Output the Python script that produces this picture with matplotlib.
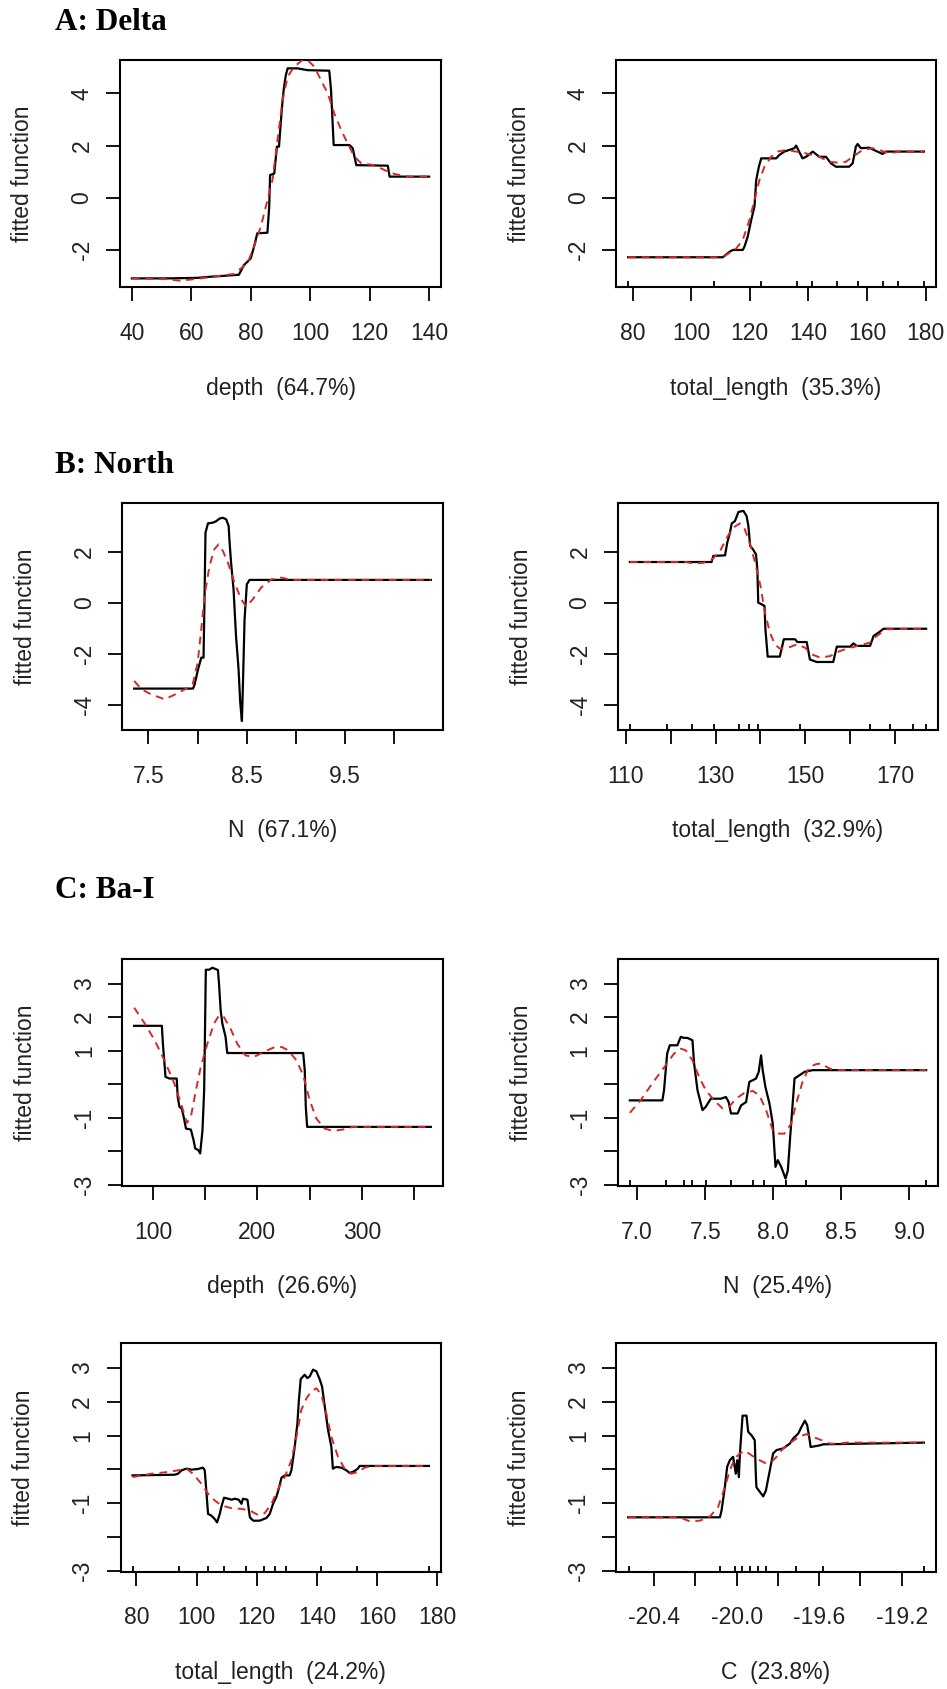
import matplotlib.pyplot as plt

W, H = 947, 1689

# ---------- A: Delta ----------
delta_depth_x = [40, 52, 62, 66, 70, 76, 77.7, 80, 81.1, 82.2, 85.6, 86.2, 86.5, 87.9, 88.8, 89.5, 89.9, 90.7,
                 91.2, 91.8, 92.4, 95.7, 99.1, 106.4, 107.0, 107.6, 107.9, 113.2, 114.3, 114.9, 115.5, 126.1,
                 126.7, 140]
delta_depth_y = [-3.09, -3.09, -3.07, -3.03, -3.0, -2.95, -2.58, -2.32, -1.87, -1.36, -1.34, -0.34, 0.87, 0.93,
                 1.96, 1.96, 2.6, 3.74, 4.26, 4.70, 4.96, 4.96, 4.89, 4.87, 4.13, 2.72, 2.02, 2.02, 1.9, 1.57,
                 1.25, 1.23, 0.81, 0.81]
delta_depth_sx = [40, 51.8, 56.3, 63.1, 68.7, 74.3, 78.9, 81.1, 83.4, 85.6, 87.3, 89.0, 90.7, 92.4, 94.6, 97.4,
                  99.1, 101.4, 103.6, 105.9, 108.1, 110.4, 112.6, 114.9, 117.2, 121.6, 125.0, 128.4, 132.9, 140]
delta_depth_sy = [-3.09, -3.12, -3.18, -3.09, -3.0, -2.92, -2.51, -1.87, -1.1, -0.09, 0.68, 2.21, 3.74, 4.64,
                  5.02, 5.28, 5.28, 5.02, 4.51, 4.0, 3.23, 2.6, 2.08, 1.57, 1.32, 1.25, 1.06, 0.91, 0.81, 0.81]

delta_len_x = [78.5, 110.8, 113.1, 114.2, 117.6, 118.2, 119.3, 120.5, 121.6, 122.2, 123.1, 123.9, 129.0, 130.1,
               131.8, 135.2, 135.8, 138.0, 139.2, 141.5, 143.7, 146.0, 147.7, 149.4, 153.9, 155.1, 156.2, 156.8,
               157.9, 160.7, 162.4, 165.3, 166.4, 168.1, 179.4]
delta_len_y = [-2.28, -2.28, -2.07, -2.0, -2.0, -1.87, -1.49, -0.85, -0.34, 0.68, 1.19, 1.51, 1.51, 1.64, 1.77,
               1.9, 2.0, 1.51, 1.57, 1.77, 1.57, 1.57, 1.32, 1.19, 1.19, 1.32, 1.96, 2.06, 1.9, 1.92, 1.83, 1.68,
               1.77, 1.77, 1.77]
delta_len_sx = [78.5, 109.7, 112.0, 115.4, 117.6, 119.9, 121.6, 123.3, 125.0, 127.3, 129.5, 132.4, 135.8, 139.2,
                143.7, 147.1, 150.5, 152.8, 155.1, 158.5, 161.9, 164.2, 167.6, 171.0, 179.4]
delta_len_sy = [-2.28, -2.28, -2.19, -1.94, -1.62, -0.85, -0.09, 0.68, 1.19, 1.57, 1.77, 1.83, 1.77, 1.70, 1.57,
                1.38, 1.34, 1.38, 1.57, 1.83, 1.90, 1.83, 1.70, 1.77, 1.77]
delta_len_rug = [78.5, 107.7, 120.0, 123.9, 136.0, 141.1, 149.6, 157.0, 165.5, 170.6, 179.5]

# ---------- B: North ----------
north_n_x = [7.355, 7.953, 7.97, 8.004, 8.037, 8.06, 8.07, 8.08, 8.105, 8.156, 8.19, 8.223, 8.257, 8.29, 8.315,
             8.325, 8.34, 8.365, 8.39, 8.416, 8.433, 8.45, 8.46, 8.477, 8.50, 8.528, 10.37]
north_n_y = [-3.36, -3.36, -3.19, -2.61, -2.15, -2.15, 0.2, 2.74, 3.10, 3.13, 3.19, 3.29, 3.32, 3.26, 3.0, 2.35,
             1.56, 0.52, -1.3, -2.61, -3.91, -4.63, -3.26, -0.65, 0.72, 0.89, 0.89]
north_n_sx = [7.355, 7.43, 7.53, 7.666, 7.77, 7.87, 7.95, 8.0, 8.037, 8.07, 8.12, 8.17, 8.213, 8.257, 8.308,
              8.375, 8.443, 8.494, 8.56, 8.646, 8.75, 8.85, 8.95, 10.37]
north_n_sy = [-3.06, -3.39, -3.59, -3.78, -3.59, -3.39, -3.19, -2.35, -1.04, 0.26, 1.43, 2.09, 2.28, 2.02, 1.56,
              0.78, 0.13, -0.16, 0.13, 0.59, 0.91, 0.98, 0.89, 0.89]

north_len_x = [110.9, 129.1, 129.5, 132.1, 132.6, 133.2, 133.6, 134.3, 135.1, 136.2, 136.9, 137.3, 137.7, 138.3,
               139.0, 139.3, 139.5, 140.3, 140.9, 141.1, 141.6, 144.3, 145.2, 147.7, 148.2, 150.3, 151.0, 152.5,
               156.2, 157.0, 160.0, 160.7, 161.4, 164.4, 165.2, 166.3, 167.4, 176.9]
north_len_y = [1.59, 1.59, 1.83, 1.85, 2.35, 2.74, 3.10, 3.19, 3.55, 3.59, 3.39, 3.0, 2.22, 2.09, 1.89, 1.30, 0.0,
               -0.07, -0.13, -1.04, -2.11, -2.11, -1.43, -1.43, -1.54, -1.54, -2.22, -2.32, -2.32, -1.72, -1.72,
               -1.59, -1.69, -1.69, -1.30, -1.17, -1.02, -1.02]
north_len_sx = [110.9, 123.5, 125.0, 127.2, 129.1, 131.0, 132.5, 133.9, 135.4, 136.5, 137.7, 138.8, 140.0, 141.0,
                142.1, 143.2, 144.3, 146.2, 148.1, 149.9, 151.4, 153.3, 155.5, 157.7, 160.0, 162.2, 164.4, 165.9,
                168.1, 176.9]
north_len_sy = [1.59, 1.59, 1.53, 1.56, 1.67, 2.02, 2.54, 2.93, 3.10, 2.87, 2.28, 1.56, 0.65, -0.39, -1.17, -1.63,
                -1.80, -1.76, -1.63, -1.76, -2.02, -2.15, -2.09, -1.89, -1.76, -1.67, -1.56, -1.30, -1.04, -1.02]
north_len_rug = [111.0, 119.2, 124.8, 129.6, 135.2, 137.5, 139.5, 148.8, 164.5, 168.9, 174.0, 176.9]

# ---------- C: Ba-I ----------
bai_depth_x = [82, 108.5, 109.5, 111.0, 112.0, 115.8, 122.7, 123.7, 125.3, 127.5, 129.4, 131.6, 136.3, 138.9,
               140.4, 143.3, 145.2, 147.4, 149.0, 149.6, 150.6, 153.7, 156.9, 160.0, 162.2, 163.2, 164.8, 166.4,
               169.5, 171.1, 243.8, 245.3, 246.3, 247.6, 366]
bai_depth_y = [1.74, 1.74, 1.21, 0.62, 0.22, 0.17, 0.17, -0.38, -0.67, -0.72, -0.97, -1.32, -1.35, -1.67, -1.91,
               -1.96, -2.06, -1.37, -0.18, 1.11, 3.41, 3.41, 3.47, 3.43, 3.40, 3.0, 2.2, 1.81, 1.41, 0.93, 0.93,
               0.42, -0.67, -1.27, -1.27]
bai_depth_sx = [82, 92.1, 101.6, 111.0, 120.5, 126.9, 132.5, 136.3, 141.1, 145.8, 152.1, 158.5, 163.2, 167.9,
                174.2, 180.6, 188.5, 196.4, 205.8, 215.3, 223.2, 229.5, 237.4, 243.8, 250.1, 256.4, 264.3, 272.2,
                281.7, 291.2, 366]
bai_depth_sy = [2.28, 1.81, 1.31, 0.71, 0.02, -0.58, -1.15, -0.97, -0.18, 0.52, 1.21, 1.81, 2.05, 2.0, 1.66, 1.21,
                0.86, 0.81, 0.96, 1.09, 1.11, 1.01, 0.71, 0.27, -0.48, -1.02, -1.32, -1.39, -1.35, -1.27, -1.27]

bai_n_x = [6.946, 7.185, 7.197, 7.22, 7.239, 7.295, 7.32, 7.344, 7.369, 7.406, 7.418, 7.443, 7.48, 7.504, 7.541,
           7.615, 7.652, 7.672, 7.689, 7.738, 7.763, 7.80, 7.824, 7.873, 7.893, 7.91, 7.922, 7.942, 7.972, 7.996,
           8.016, 8.033, 8.058, 8.09, 8.107, 8.124, 8.144, 8.156, 8.193, 8.23, 8.29, 9.123]
bai_n_y = [-0.48, -0.48, -0.18, 0.91, 1.16, 1.16, 1.41, 1.38, 1.38, 1.31, 0.62, -0.18, -0.77, -0.67, -0.43, -0.43,
           -0.38, -0.53, -0.87, -0.87, -0.63, -0.53, 0.07, 0.17, 0.37, 0.86, 0.42, -0.08, -0.58, -1.17, -2.46,
           -2.26, -2.46, -2.81, -2.56, -1.57, -0.48, 0.17, 0.27, 0.37, 0.42, 0.42]
bai_n_sx = [6.946, 7.025, 7.11, 7.21, 7.27, 7.32, 7.357, 7.406, 7.455, 7.504, 7.566, 7.627, 7.676, 7.726, 7.787,
            7.849, 7.898, 7.947, 7.996, 8.033, 8.082, 8.132, 8.168, 8.218, 8.267, 8.316, 8.353, 8.39, 8.44, 9.123]
bai_n_sy = [-0.85, -0.48, 0.02, 0.57, 0.91, 1.06, 1.01, 0.71, 0.22, -0.18, -0.48, -0.72, -0.67, -0.43, -0.26,
            -0.20, -0.33, -0.77, -1.37, -1.47, -1.47, -1.17, -0.58, 0.12, 0.52, 0.60, 0.62, 0.52, 0.42, 0.42]
bai_n_rug = [6.946, 7.214, 7.345, 7.406, 7.504, 7.689, 7.849, 7.928, 8.0, 8.095, 8.243, 9.12]

bai_len_x = [78.7, 92.7, 93.8, 95.0, 96.6, 98.3, 100.5, 102.1, 102.7, 103.3, 103.8, 104.9, 106.0, 106.8, 107.7,
             108.2, 109.1, 110.5, 111.6, 112.7, 114.0, 114.9, 115.4, 116.9, 117.7, 118.8, 121.0, 123.2, 124.3,
             125.4, 126.5, 127.3, 128.2, 129.3, 130.9, 131.5, 132.6, 133.5, 134.0, 134.6, 135.9, 136.8, 137.6,
             138.7, 139.8, 140.9, 141.7, 142.6, 143.7, 144.8, 145.3, 146.4, 148.1, 149.8, 150.9, 152.5, 153.6,
             154.2, 177.2]
bai_len_y = [-0.18, -0.16, -0.13, -0.03, 0.02, -0.01, 0.01, 0.05, -0.03, -0.72, -1.32, -1.37, -1.47, -1.57, -1.32,
             -1.12, -0.84, -0.87, -0.9, -0.87, -0.9, -1.02, -0.87, -0.9, -1.42, -1.52, -1.52, -1.44, -1.32, -1.02,
             -0.82, -0.58, -0.25, -0.18, -0.18, -0.03, 0.66, 1.36, 2.05, 2.67, 2.80, 2.70, 2.75, 2.95, 2.90, 2.67,
             2.45, 1.86, 1.16, 0.66, 0.02, 0.07, 0.05, -0.03, -0.11, -0.05, 0.02, 0.10, 0.10]
bai_len_sx = [78.7, 85.0, 90.5, 93.8, 96.6, 98.8, 101.6, 103.8, 106.0, 108.2, 111.6, 114.9, 117.7, 120.4, 122.6,
              124.9, 127.1, 129.3, 131.5, 133.2, 134.8, 136.5, 138.1, 139.8, 141.5, 143.1, 144.8, 147.0, 149.2,
              151.4, 153.6, 155.9, 158.1, 177.2]
bai_len_sy = [-0.23, -0.13, -0.08, -0.03, 0.02, -0.13, -0.43, -0.72, -0.92, -1.07, -1.15, -1.17, -1.22, -1.35,
              -1.30, -1.02, -0.58, -0.23, 0.27, 0.96, 1.76, 2.10, 2.30, 2.40, 2.20, 1.66, 0.96, 0.37, 0.02, -0.13,
              -0.08, 0.05, 0.10, 0.10]
bai_len_rug = [78.7, 94.2, 103.8, 109.0, 116.3, 122.3, 125.9, 129.8, 141.5, 153.3, 177.2]

bai_c_x = [-20.526, -20.081, -20.073, -20.057, -20.046, -20.033, -20.017, -20.004, -19.997, -19.989, -19.984,
           -19.976, -19.971, -19.952, -19.944, -19.928, -19.912, -19.907, -19.904, -19.887, -19.871, -19.858,
           -19.839, -19.823, -19.806, -19.774, -19.742, -19.726, -19.701, -19.685, -19.669, -19.658, -19.648,
           -19.641, -19.596, -19.58, -19.092]
bai_c_y = [-1.42, -1.42, -1.22, -0.53, 0.07, 0.27, 0.37, -0.13, 0.27, -0.23, 0.47, 1.16, 1.59, 1.59, 1.11, 1.01,
           0.86, -0.13, -0.53, -0.67, -0.80, -0.63, -0.03, 0.47, 0.57, 0.62, 0.76, 0.91, 1.06, 1.26, 1.44, 1.31,
           0.96, 0.66, 0.71, 0.74, 0.79]
bai_c_sx = [-20.526, -20.275, -20.227, -20.178, -20.13, -20.09, -20.057, -20.033, -20.009, -19.984, -19.96,
            -19.936, -19.904, -19.863, -19.831, -19.806, -19.774, -19.734, -19.693, -19.661, -19.629, -19.588,
            -19.548, -19.507, -19.467, -19.092]
bai_c_sy = [-1.42, -1.42, -1.54, -1.52, -1.40, -1.12, -0.53, -0.03, 0.32, 0.47, 0.55, 0.45, 0.32, 0.19, 0.22,
            0.37, 0.62, 0.81, 0.98, 1.04, 0.96, 0.86, 0.76, 0.76, 0.79, 0.79]
bai_c_rug = [-20.524, -20.079, -20.010, -19.974, -19.933, -19.896, -19.857, -19.713, -19.583, -19.09]

# axis labels and ticks
a_yticks = [-2, 0, 2, 4]
b_yticks = [-4, -2, 0, 2]
c_yticks = [-3, -2, -1, 0, 1, 2, 3]
c_ylabels = ['-3', '', '-1', '', '1', '2', '3']

plt.rcParams['font.family'] = ['Liberation Sans', 'DejaVu Sans']
plt.rcParams['axes.unicode_minus'] = False

fig = plt.figure(figsize=(W / 100, H / 100), dpi=100)

TXT = '#222222'
FS = 16.5


def panel(box, xs, ys, sxs, sys_, xlabel, ylim, xticks, xticklabels, yticks, yticklabels, rug=None):
    left, right, top, bottom = box
    ax = fig.add_axes([left / W, 1 - bottom / H, (right - left) / W, (bottom - top) / H])
    ax.plot(xs, ys, color='black', lw=1.6, zorder=3)
    ax.plot(sxs, sys_, color='#d22a2a', lw=1.4, dashes=(4, 3), zorder=4)
    ax.margins(x=0.04)
    ax.set_ylim(*ylim)
    ax.set_xticks(xticks, xticklabels)
    ax.set_yticks(yticks, yticklabels)
    if rug is not None:
        ax.set_xticks(rug, minor=True)
        ax.tick_params(axis='x', which='minor', direction='in', length=4.5, width=1.3)
    ax.tick_params(axis='both', which='major', direction='out', length=10, width=1.3,
                   labelsize=FS, labelcolor=TXT)
    ax.tick_params(axis='x', which='major', pad=15)
    ax.tick_params(axis='y', which='major', pad=9)
    for lab in ax.get_yticklabels():
        lab.set_rotation(90)
        lab.set_va('center')
    for sp in ax.spines.values():
        sp.set_linewidth(1.5)
    ax.annotate(xlabel, xy=(0.5, 0), xycoords='axes fraction', xytext=(0, -101 * 0.72),
                textcoords='offset points', ha='center', va='center', fontsize=FS, color=TXT)
    ax.annotate('fitted function', xy=(0, 0.5), xycoords='axes fraction', xytext=(-97 * 0.72, 0),
                textcoords='offset points', ha='center', va='center', rotation=90, fontsize=FS, color=TXT)
    return ax


# row A
panel((120, 441, 60, 287), delta_depth_x, delta_depth_y, delta_depth_sx, delta_depth_sy,
      'depth  (64.7%)', (-3.42, 5.28), [40, 60, 80, 100, 120, 140], None, a_yticks, None)
panel((616.3, 935.7, 60, 287), delta_len_x, delta_len_y, delta_len_sx, delta_len_sy,
      'total_length  (35.3%)', (-3.42, 5.28), [80, 100, 120, 140, 160, 180], None, a_yticks, None,
      rug=delta_len_rug)

# row B
panel((122.3, 442.7, 502.7, 730), north_n_x, north_n_y, north_n_sx, north_n_sy,
      'N  (67.1%)', (-4.98, 3.91), [7.5, 8.0, 8.5, 9.0, 9.5, 10.0], ['7.5', '', '8.5', '', '9.5', ''],
      b_yticks, None)
panel((618, 938, 502.7, 730), north_len_x, north_len_y, north_len_sx, north_len_sy,
      'total_length  (32.9%)', (-4.98, 3.91), [110, 120, 130, 140, 150, 160, 170],
      ['110', '', '130', '', '150', '', '170'], b_yticks, None, rug=north_len_rug)

# row C1
panel((122.3, 442.7, 959, 1186), bai_depth_x, bai_depth_y, bai_depth_sx, bai_depth_sy,
      'depth  (26.6%)', (-3.03, 3.73), [100, 150, 200, 250, 300, 350], ['100', '', '200', '', '300', ''],
      c_yticks, c_ylabels)
panel((618, 938, 959, 1186), bai_n_x, bai_n_y, bai_n_sx, bai_n_sy,
      'N  (25.4%)', (-3.03, 3.73), [7.0, 7.5, 8.0, 8.5, 9.0], ['7.0', '7.5', '8.0', '8.5', '9.0'],
      c_yticks, c_ylabels, rug=bai_n_rug)

# row C2
panel((120.7, 440.7, 1343.3, 1571.7), bai_len_x, bai_len_y, bai_len_sx, bai_len_sy,
      'total_length  (24.2%)', (-3.03, 3.73), [80, 100, 120, 140, 160, 180], None,
      c_yticks, c_ylabels, rug=bai_len_rug)
panel((616.3, 935.7, 1343.3, 1571.7), bai_c_x, bai_c_y, bai_c_sx, bai_c_sy,
      'C  (23.8%)', (-3.03, 3.73), [-20.4, -20.2, -20.0, -19.8, -19.6, -19.4, -19.2],
      ['-20.4', '', '-20.0', '', '-19.6', '', '-19.2'], c_yticks, c_ylabels, rug=bai_c_rug)

# section headers
for txt, base in [('A: Delta', 30), ('B: North', 473), ('C: Ba-I', 898)]:
    fig.text(55 / W, 1 - base / H, txt, fontsize=22.5, fontweight='bold',
             family=['Liberation Serif', 'DejaVu Serif'], va='baseline', ha='left', color='black')

fig.savefig('out.png', dpi=100)
